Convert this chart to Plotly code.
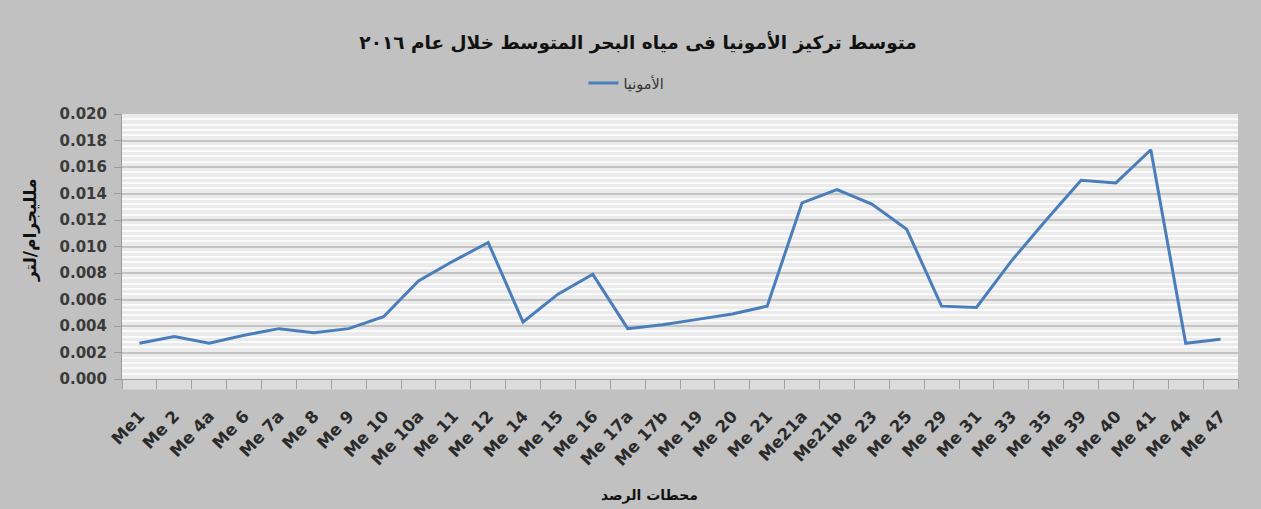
import plotly.graph_objects as go

# Monitoring stations along the Mediterranean coast
stations = ["Me1", "Me 2", "Me 4a", "Me 6", "Me 7a", "Me 8", "Me 9", "Me 10",
            "Me 10a", "Me 11", "Me 12", "Me 14", "Me 15", "Me 16", "Me 17a",
            "Me 17b", "Me 19", "Me 20", "Me 21", "Me21a", "Me21b", "Me 23",
            "Me 25", "Me 29", "Me 31", "Me 33", "Me 35", "Me 39", "Me 40",
            "Me 41", "Me 44", "Me 47"]

# Mean ammonia concentration (mg/L), 2016
ammonia = [0.0027, 0.0032, 0.0027, 0.0033, 0.0038, 0.0035, 0.0038, 0.0047,
           0.0074, 0.0089, 0.0103, 0.0043, 0.0064, 0.0079, 0.0038,
           0.0041, 0.0045, 0.0049, 0.0055, 0.0133, 0.0143, 0.0132,
           0.0113, 0.0055, 0.0054, 0.0089, 0.0120, 0.0150, 0.0148,
           0.0173, 0.0027, 0.0030]

y_ticks = [0.000, 0.002, 0.004, 0.006, 0.008, 0.010, 0.012, 0.014, 0.016, 0.018, 0.020]

title_text = "متوسط تركيز الأمونيا فى مياه البحر المتوسط خلال عام ٢٠١٦"
series_name = "الأمونيا"
y_title = "ملليجرام/لتر"
x_title = "محطات الرصد"

FONT = "DejaVu Sans"

fig = go.Figure()
fig.add_trace(go.Scatter(
    x=stations, y=ammonia, mode="lines", name=series_name,
    line=dict(color="#4a7ebb", width=3),
))

# light strip under the category axis that holds the tick marks
fig.add_shape(type="rect", xref="paper", yref="paper", x0=0, x1=1, y0=-0.04, y1=0,
              fillcolor="#dcdcdc", line=dict(width=0), layer="between")

fig.update_layout(
    width=1261, height=509,
    margin=dict(l=122, r=23, t=114, b=130),
    paper_bgcolor="#c1c1c1",
    plot_bgcolor="#ebebeb",
    title=dict(text=title_text, x=0.506, xanchor="center", y=0.917, yanchor="middle",
               yref="container",
               font=dict(family=FONT, size=18.5, color="#111111", weight="bold")),
    showlegend=True,
    legend=dict(orientation="h", x=0.452, xanchor="center", y=1.117, yanchor="middle",
                bgcolor="rgba(0,0,0,0)",
                font=dict(family=FONT, size=14.5, color="#333333")),
    xaxis=dict(
        type="category", tickangle=-47, tickson="boundaries", automargin=False,
        ticks="outside", ticklen=9, tickcolor="#a0a0a0", ticklabelstandoff=20,
        showline=True, linecolor="#a0a0a0", linewidth=1,
        showgrid=False, range=[-0.5, len(stations) - 0.5],
        tickfont=dict(family=FONT, size=16.5, color="#2a2a2a", weight="bold"),
    ),
    yaxis=dict(
        range=[0, 0.020], tickvals=y_ticks, tickformat=".3f", automargin=False,
        ticks="outside", ticklen=7, tickcolor="#9a9a9a", ticklabelstandoff=4,
        showline=True, linecolor="#9a9a9a", linewidth=1,
        showgrid=True, gridcolor="#c4c4c4", gridwidth=1.5,
        minor=dict(dtick=0.0004, showgrid=True, gridcolor="#fafafa", gridwidth=2),
        zeroline=False,
        tickfont=dict(family=FONT, size=15, color="#3a3a3a", weight="bold"),
    ),
    annotations=[
        dict(text=x_title, xref="paper", yref="paper", x=0.473, y=-0.44,
             xanchor="center", yanchor="middle", showarrow=False,
             font=dict(family=FONT, size=14, color="#111111", weight="bold")),
        dict(text=y_title, xref="paper", yref="paper", x=-0.0824, y=0.562,
             textangle=-90, xanchor="center", yanchor="middle", showarrow=False,
             font=dict(family=FONT, size=17, color="#111111", weight="bold")),
    ],
)

fig.write_html("out.html")
